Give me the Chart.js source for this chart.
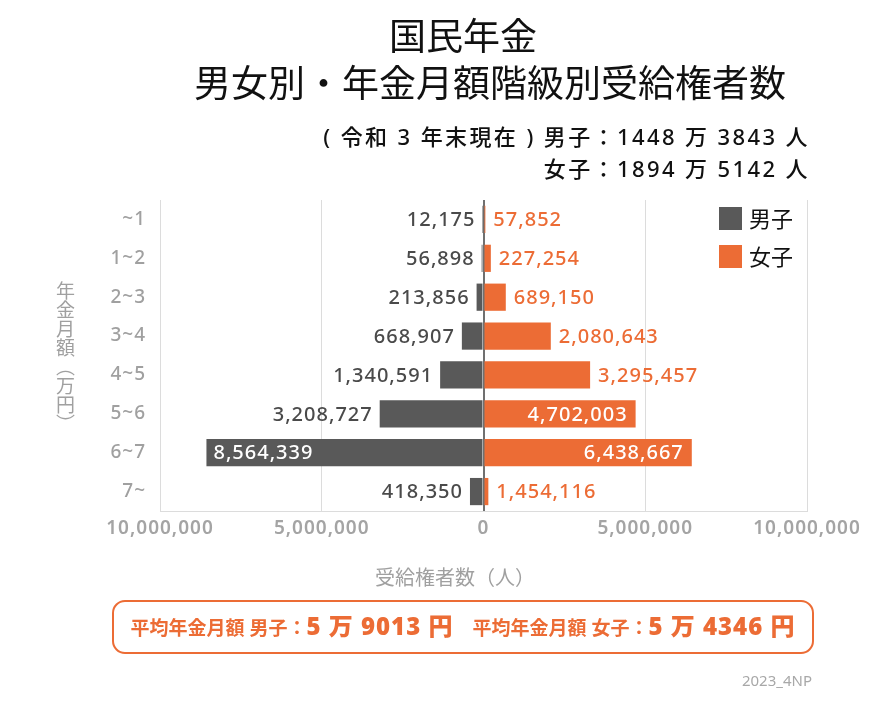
<!DOCTYPE html>
<html><head><meta charset="utf-8">
<script src="https://cdn.jsdelivr.net/npm/chart.js@4.4.1/dist/chart.umd.min.js"></script>
<style>
html,body{margin:0;padding:0;background:#fff;}
#wrap{position:relative;width:870px;height:703px;overflow:hidden;font-family:"Noto Sans","Noto Sans CJK JP",sans-serif;}
#wrap canvas{position:absolute;left:0;top:0;}
.t{position:absolute;white-space:nowrap;}
#t1{left:0;width:926px;text-align:center;top:7px;font-size:37px;color:#111;font-family:"Noto Sans CJK JP",sans-serif;}
#t2{left:0;width:980px;text-align:center;top:54px;font-size:37px;color:#111;font-family:"Noto Sans CJK JP",sans-serif;}
#s1,#s2{right:60px;font-size:22px;color:#111;font-weight:500;letter-spacing:2.4px;}
#s1{top:119px;} #s2{top:151px;}
#ytitle{left:52px;top:281px;writing-mode:vertical-rl;font-size:19px;color:#a0a0a0;font-family:"Noto Sans CJK JP",sans-serif;}
#xtitle{left:0;width:910px;text-align:center;top:562px;font-size:20px;color:#a0a0a0;font-family:"Noto Sans CJK JP",sans-serif;}
#box{position:absolute;left:112px;top:600px;width:702px;height:54px;border:2.5px solid #EC6C35;border-radius:13px;box-sizing:border-box;text-align:center;line-height:48px;color:#EC6C35;font-weight:700;font-size:19px;white-space:nowrap;}
#box b{font-size:24px;letter-spacing:1px;}
#foot{right:58px;top:670px;font-size:15px;color:#a8a8a8;}
</style></head>
<body>
<div id="wrap">
<canvas id="c" width="870" height="703"></canvas>
<div class="t" id="t1">国民年金</div>
<div class="t" id="t2">男女別・年金月額階級別受給権者数</div>
<div class="t" id="s1">( 令和 3 年末現在 ) 男子：1448 万 3843 人</div>
<div class="t" id="s2">女子：1894 万 5142 人</div>
<div class="t" id="ytitle">年金月額（万円）</div>
<div class="t" id="xtitle">受給権者数（人）</div>
<div id="box">平均年金月額 男子：<b>5 万 9013 円</b>　平均年金月額 女子：<b>5 万 4346 円</b></div>
<div class="t" id="foot">2023_4NP</div>
</div>
<script>
const categories = ["~1","1~2","2~3","3~4","4~5","5~6","6~7","7~"];
// bar lengths as drawn in the picture
const maleValues = [12175,56898,213856,668907,1340591,3208727,8564339,418350];
const femaleValues = [57852,227254,689150,2080643,3295457,4702003,6438667,150000];
// numbers printed next to the bars
const maleLabels = [12175,56898,213856,668907,1340591,3208727,8564339,418350];
const femaleLabels = [57852,227254,689150,2080643,3295457,4702003,6438667,1454116];
const seriesLabels = ["男子","女子"];
const xTickValues = [-10000000,-5000000,0,5000000,10000000];

const MALE = "#595959", FEMALE = "#EC6C35";
const fmt = v => Math.abs(v).toLocaleString("en-US");
const LABEL_FONT = '500 20px "Noto Sans", sans-serif';

const spacingPlugin = {
  id: "spacing",
  beforeDraw(chart) { chart.ctx.letterSpacing = "1px"; },
  afterDraw(chart) { chart.ctx.letterSpacing = "0px"; }
};

const labelPlugin = {
  id: "barLabels",
  afterDatasetsDraw(chart) {
    const ctx = chart.ctx;
    ctx.save();
    ctx.letterSpacing = "1px";
    ctx.font = LABEL_FONT;
    ctx.textBaseline = "middle";
    chart.data.datasets.forEach((ds, di) => {
      const meta = chart.getDatasetMeta(di);
      meta.data.forEach((bar, i) => {
        const raw = di === 0 ? maleLabels[i] : femaleLabels[i];
        const barVal = di === 0 ? maleValues[i] : femaleValues[i];
        const txt = fmt(raw);
        const inside = barVal >= 4000000;
        const y = bar.y + 1;
        if (di === 0) {
          const left = Math.min(bar.x, bar.base);
          if (inside) { ctx.fillStyle = "#fff"; ctx.textAlign = "left"; ctx.fillText(txt, left + 7, y); }
          else { ctx.fillStyle = "#4a4a4a"; ctx.textAlign = "right"; ctx.fillText(txt, left - 7, y); }
        } else {
          const right = Math.max(bar.x, bar.base);
          if (inside) { ctx.fillStyle = "#fff"; ctx.textAlign = "right"; ctx.fillText(txt, right - 8, y); }
          else { ctx.fillStyle = FEMALE; ctx.textAlign = "left"; ctx.fillText(txt, right + 8, y); }
        }
      });
    });
    ctx.letterSpacing = "0px";
    ctx.font = '22px "Noto Sans CJK JP", sans-serif';
    ctx.textAlign = "left";
    chart.data.datasets.forEach((ds, di) => {
      const y0 = 207 + di * 38;
      ctx.fillStyle = ds.backgroundColor;
      ctx.fillRect(719, y0, 23, 23);
      ctx.fillStyle = "#111";
      ctx.fillText(ds.label, 749, y0 + 12);
    });
    ctx.restore();
  }
};

new Chart(document.getElementById("c"), {
  type: "bar",
  data: {
    labels: categories,
    datasets: [
      { label: seriesLabels[0], data: maleValues.map(v => -v), backgroundColor: MALE, categoryPercentage: 0.7, barPercentage: 1 },
      { label: seriesLabels[1], data: femaleValues, backgroundColor: FEMALE, categoryPercentage: 0.7, barPercentage: 1 }
    ]
  },
  options: {
    indexAxis: "y",
    responsive: false,
    animation: false,
    devicePixelRatio: 1,
    layout: { padding: { left: 0, right: 63, top: 200, bottom: 162 } },
    plugins: { legend: { display: false }, tooltip: { enabled: false } },
    scales: {
      x: {
        stacked: true, min: -10000000, max: 10000000,
        afterBuildTicks: s => { s.ticks = xTickValues.map(v => ({ value: v })); },
        afterFit: s => { s.height = 30; },
        ticks: { callback: v => fmt(v), color: "#a4a4a4", font: { family: "Noto Sans", size: 19, weight: "600" }, maxRotation: 0, padding: 6 },
        grid: {
          drawTicks: false,
          color: c => (c.tick && c.tick.value === 0) ? "#707070" : "#dcdcdc",
          lineWidth: c => (c.tick && c.tick.value === 0) ? 2 : 1
        },
        border: { display: true, color: "#dcdcdc" }
      },
      y: {
        stacked: true,
        afterFit: s => { s.width = 160; },
        ticks: { color: "#a0a0a0", font: { family: "Noto Sans", size: 19, weight: "500" }, padding: 14 },
        grid: { display: false, drawTicks: false },
        border: { display: false }
      }
    }
  },
  plugins: [spacingPlugin, labelPlugin]
});
</script>
</body></html>
